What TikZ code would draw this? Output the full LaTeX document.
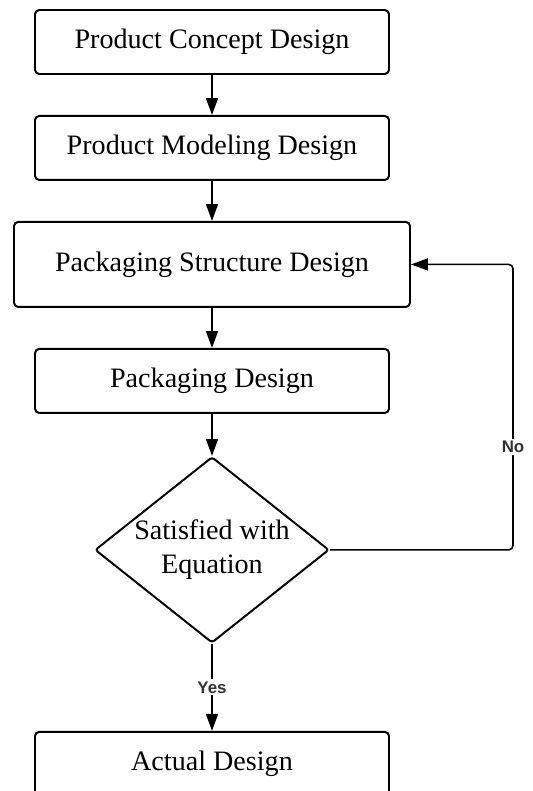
\documentclass[tikz,border=0pt]{standalone}
\usepackage{fontspec}
\setmainfont{Liberation Serif}
\newfontfamily\labelfont{Liberation Sans}
\usetikzlibrary{arrows.meta,positioning,shapes.geometric}

\begin{document}
\begin{tikzpicture}[
  node distance=1.0cm,
  stage/.style={rectangle, rounded corners=3pt, draw=black, line width=1.4pt, fill=white,
                align=center, minimum width=8.85cm, minimum height=1.6cm, inner sep=1mm,
                font=\fontsize{20}{23}\selectfont},
  check/.style={diamond, aspect=1.26, rounded corners=2pt, draw=black, line width=1.4pt, fill=white,
                align=center, minimum width=5.85cm, minimum height=4.65cm, inner sep=0pt,
                font=\fontsize{20}{24}\selectfont},
  lbl/.style={fill=white, inner sep=1.5pt, text=black!80,
              font=\labelfont\bfseries\fontsize{12}{14}\selectfont},
  arr/.style={-{Triangle[length=12pt, width=8.5pt]}, line width=1.1pt, black}
]
\useasboundingbox (0,0) rectangle (13.3,-19.775);
\node[stage] (concept) at (5.3,-1.05) {Product Concept Design};
\node[stage, below=of concept] (model) {Product Modeling Design};
\node[stage, below=of model, minimum width=9.9cm, minimum height=2.125cm] (structure) {Packaging Structure Design};
\node[stage, below=of structure] (pack) {Packaging Design};
\node[check, below=1.05cm of pack] (check) {Satisfied with\\ Equation};
\node[stage, below=2.175cm of check] (actual) {Actual Design};
\coordinate (turn) at (12.825,0);
\draw[arr] (concept) -- (model);
\draw[arr] (model) -- (structure);
\draw[arr] (structure) -- (pack);
\draw[arr] (pack) -- (check);
\draw[arr] (check) -- node[lbl] {Yes} (actual);
\draw[arr, rounded corners=3pt] (check.east) -- (check.east -| turn)
  -- node[lbl, pos=0.36] {No} (turn |- structure) -- (structure.east);
\end{tikzpicture}
\end{document}
